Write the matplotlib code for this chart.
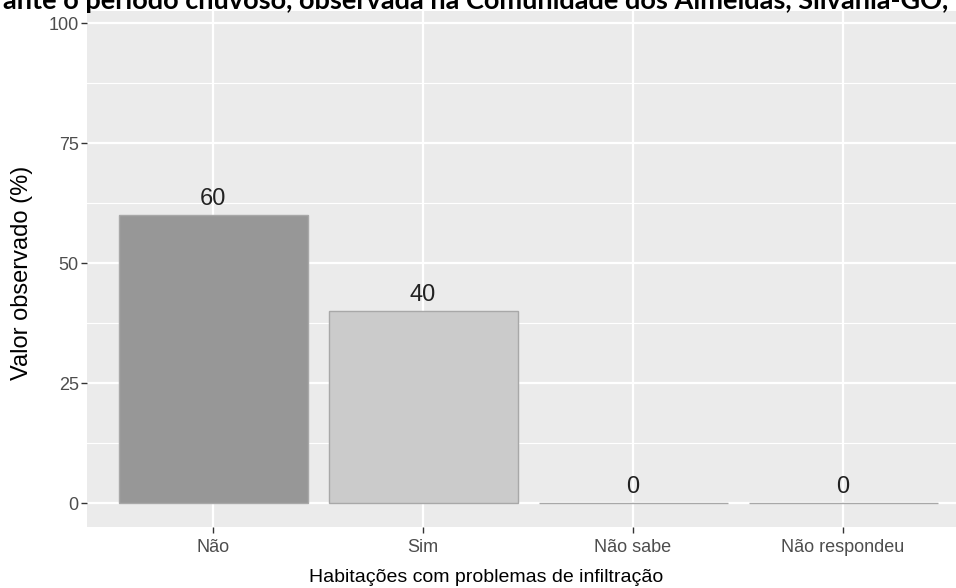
import numpy as np
import matplotlib.pyplot as plt

# respostas sobre infiltração (valor observado, %)
categorias = ["Não", "Sim", "Não sabe", "Não respondeu"]
valores = [60, 40, 0, 0]
cores = ["#979797", "#cbcbcb", "#e3e3e3", "#f2f2f2"]
titulo = "ante o período chuvoso, observada na Comunidade dos Almeidas, Silvânia-GO,"

plt.rcParams["font.family"] = ["Liberation Sans", "DejaVu Sans"]

fig = plt.figure(figsize=(9.56, 5.88), dpi=100)
# painel estilo ggplot, cortado à direita como na figura original
ax = fig.add_axes([87 / 956, 61 / 588, 882 / 956, 516 / 588])
ax.set_facecolor("#ebebeb")

x = np.arange(1, len(categorias) + 1)
bars = ax.bar(x, valores, width=0.9, color=cores, edgecolor="#a8a8a8",
              linewidth=1.0, zorder=3)
for xi, v in zip(x, valores):
    ax.annotate(f"{v}", (xi, v), xytext=(0, 3.5), textcoords="offset points",
                ha="center", va="bottom", fontsize=17, color="#222222", zorder=4)

ax.set_xlim(0.4, 4.6)
ax.set_ylim(-5, 102.5)
ax.set_yticks([0, 25, 50, 75, 100])
ax.set_yticks([12.5, 37.5, 62.5, 87.5], minor=True)
ax.set_xticks(x)
ax.set_xticklabels(categorias)

ax.grid(which="major", color="white", linewidth=1.6, zorder=0)
ax.grid(which="minor", axis="y", color="white", linewidth=0.8, zorder=0)
ax.set_axisbelow(True)
for s in ax.spines.values():
    s.set_visible(False)

ax.tick_params(axis="both", which="major", length=4, width=1, color="#333333",
               labelcolor="#4d4d4d", labelsize=13)
ax.tick_params(axis="x", pad=5)
ax.tick_params(axis="y", pad=2)
ax.tick_params(axis="y", which="minor", length=0)

ax.set_xlabel("Habitações com problemas de infiltração", fontsize=14,
              color="black", va="center")
ax.xaxis.set_label_coords((486 - 87) / 882, -(578 - 527) / 516)
ax.set_ylabel("Valor observado (%)", fontsize=17, color="black",
              va="center", ha="center")
ax.yaxis.set_label_coords((22 - 87) / 882, (527 - 273) / 516)

fig.text(476 / 956, 1 - 9 / 588, titulo, ha="center", va="baseline",
         fontsize=19.5, fontweight="bold", family=["Lato", "DejaVu Sans"])

fig.savefig("out.png", dpi=100)
